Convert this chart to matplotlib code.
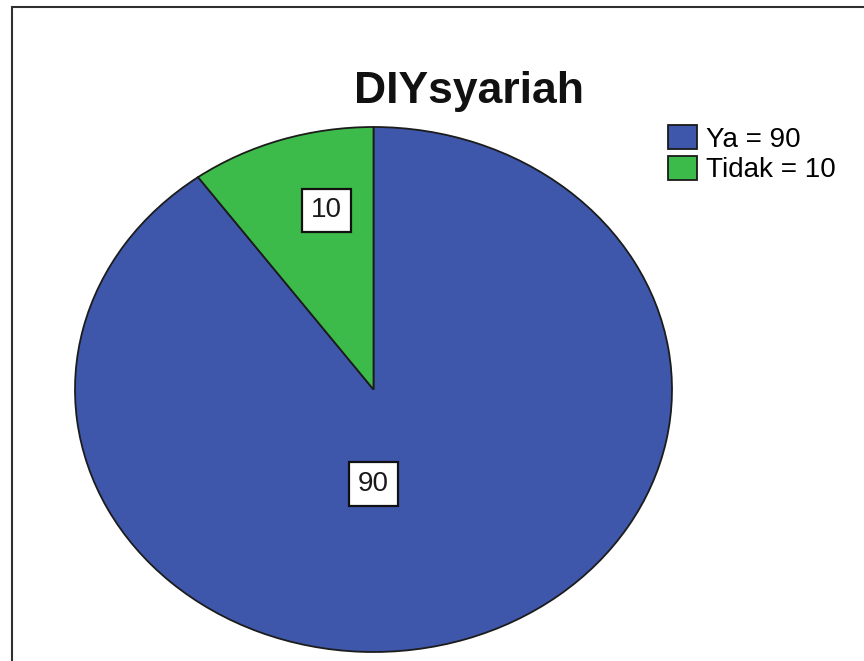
import numpy as np
import matplotlib
matplotlib.use("Agg")
import matplotlib.pyplot as plt
from matplotlib.patches import Patch, Rectangle

plt.rcParams['font.family'] = ['Liberation Sans', 'DejaVu Sans']

# data
categories = ['Ya', 'Tidak']
counts = [90, 10]
colors = ['#3e57aa', '#3dbb4a']
title = 'DIYsyariah'

W, H = 864, 661
fig = plt.figure(figsize=(W / 100, H / 100), dpi=100)
fig.patch.set_facecolor('white')

# outer frame (runs off the right and bottom edges)
frame = Rectangle((12 / W, -0.1), 1.2, 1.1 - 7 / H, transform=fig.transFigure,
                  fill=False, edgecolor='#303030', linewidth=1.5, clip_on=False)
fig.patches.append(frame)

# axes box covers the ellipse of the pie
left, right, top, bottom = 75, 672, 127, 652
ax = fig.add_axes([left / W, 1 - bottom / H, (right - left) / W, (bottom - top) / H])

wedges, _ = ax.pie(counts, colors=colors, startangle=90, counterclock=False,
                   radius=1.0, wedgeprops=dict(edgecolor='#1c1c1c', linewidth=1.3))
ax.set_aspect('auto')
ax.set_xlim(-1, 1)
ax.set_ylim(-1, 1)
ax.axis('off')

# value labels in white boxes
label_pos = {90: (0.38, None), 10: (0.70, 103)}
for w, v in zip(wedges, counts):
    r, ang = label_pos[v]
    if ang is None:
        ang = (w.theta1 + w.theta2) / 2
    mid = np.deg2rad(ang)
    x, y = r * np.cos(mid), r * np.sin(mid)
    if v == 90:
        x = 0.0
    ax.text(x, y, str(v), ha='center', va='center', fontsize=20, color='#1a1a1a',
            bbox=dict(boxstyle='square,pad=0.32', facecolor='white',
                      edgecolor='#111111', linewidth=1.6))

fig.text(469 / W, 1 - 92 / H, title, ha='center', va='center',
         fontsize=32, fontweight='bold', color='#111111')

handles = [Patch(facecolor=c, edgecolor='#1a1a1a', linewidth=1.3) for c in colors]
labels = [f'{c} = {v}' for c, v in zip(categories, counts)]
fig.legend(handles, labels, loc='upper left', bbox_to_anchor=(668 / W, 1 - 125 / H),
           frameon=False, fontsize=20, handlelength=1.05, handleheight=0.95,
           handletextpad=0.3, labelspacing=0.12, borderpad=0, borderaxespad=0)

fig.savefig('out.png', dpi=100, facecolor='white')
